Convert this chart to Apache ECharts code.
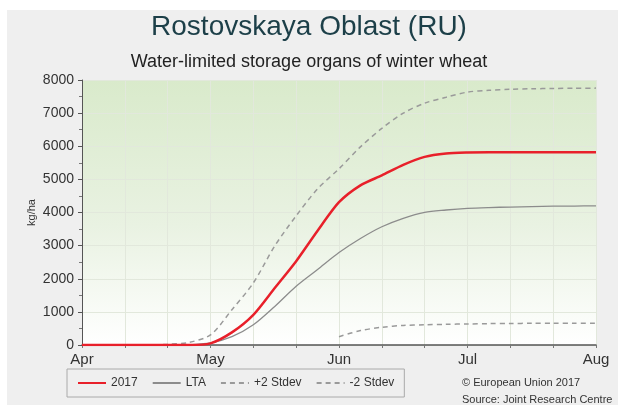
<!DOCTYPE html>
<html>
<head>
<meta charset="utf-8">
<script src="https://cdn.jsdelivr.net/npm/echarts@6/dist/echarts.min.js"></script>
<style>
html,body{margin:0;padding:0;background:#ffffff;}
#c{width:618px;height:405px;}
</style>
</head>
<body>
<div id="c"></div>
<script>
// x positions in dekads from 1 April (0 = Apr 1, 3 = May 1, ... 12 = Aug 1)
var xPos = [0,0.5,1,1.5,2,2.5,3,3.5,4,4.5,5,5.5,6,6.5,7,7.5,8,8.5,9,9.5,10,10.5,11,11.5,12];
var monthLabels = ['Apr','May','Jun','Jul','Aug'];
var yTicks = [0,1000,2000,3000,4000,5000,6000,7000,8000];

var s2017 = [0,0,0,0,0,0,50,380,910,1720,2530,3450,4310,4820,5120,5440,5680,5780,5810,5820,5820,5820,5820,5820,5820];
var sLTA  = [0,0,0,0,0,10,60,250,610,1165,1775,2280,2790,3215,3570,3825,4005,4075,4125,4150,4165,4180,4190,4195,4200];
var sPlus = [0,0,0,0,20,80,305,1065,1875,2990,3900,4715,5320,5980,6540,7000,7300,7480,7635,7690,7720,7735,7745,7750,7755];
var sMinus= [null,null,null,null,null,null,null,null,null,null,null,null,250,435,535,590,610,625,635,645,650,655,660,660,660];

function pairs(arr){ var out=[]; for(var i=0;i<xPos.length;i++){ out.push([xPos[i], arr[i]]); } return out; }

var chart = echarts.init(document.getElementById('c'), null, {renderer:'canvas'});
var FONT = 'Liberation Sans, Arial, sans-serif';
chart.setOption({
  backgroundColor: '#ffffff',
  animation: false,
  graphic: [
    {type:'rect', z:-10, silent:true, shape:{x:7,y:10,width:611,height:395}, style:{fill:'#efefef'}},
    {type:'text', left:462, top:377, style:{text:'© European Union 2017', fill:'#333', font:'11px '+FONT}},
    {type:'text', left:462, top:394, style:{text:'Source: Joint Research Centre', fill:'#333', font:'11px '+FONT}}
  ],
  title: [
    {text:'Rostovskaya Oblast (RU)', left:'center', top:8, textStyle:{fontFamily:FONT, fontSize:28, fontWeight:'normal', color:'#1c3f48'}},
    {text:'Water-limited storage organs of winter wheat', left:'center', top:48, textStyle:{fontFamily:FONT, fontSize:18, fontWeight:'normal', color:'#222'}}
  ],
  legend: {
    left: 67, top: 369,
    padding: [8,10,8,10],
    borderColor:'#aaaaaa', borderWidth:1, backgroundColor:'#efefef',
    itemWidth: 28, itemHeight: 10, itemGap: 14,
    itemStyle:{opacity:0},
    textStyle:{fontFamily:FONT, fontSize:12, color:'#333'},
    data:['2017','LTA','+2 Stdev','-2 Stdev']
  },
  grid: {
    left: 82, right: 22, top: 80, bottom: 60,
    show: true, borderWidth: 0,
    backgroundColor: {type:'linear', x:0, y:0, x2:0, y2:1, colorStops:[{offset:0,color:'#d9eacb'},{offset:0.55,color:'#e9f2e2'},{offset:1,color:'#ffffff'}]}
  },
  xAxis: {
    type:'value', min:0, max:12, interval:3,
    axisLine:{show:true, lineStyle:{color:'#555', width:1.5}},
    axisTick:{show:true, length:3, lineStyle:{color:'#777'}},
    minorTick:{show:true, splitNumber:3, length:3, lineStyle:{color:'#777'}},
    splitLine:{show:true, lineStyle:{color:'#e2e8dc', width:1}},
    minorSplitLine:{show:true, lineStyle:{color:'#e2e8dc', width:1}},
    axisLabel:{fontFamily:FONT, fontSize:15, color:'#333', margin:7,
      formatter:function(v){ var i=Math.round(v/3); return monthLabels[i]||''; }}
  },
  yAxis: {
    type:'value', min:0, max:8000, interval:1000,
    name:'kg/ha', nameLocation:'middle', nameGap:45, nameRotate:90, nameMoveOverlap:false,
    nameTextStyle:{fontFamily:FONT, fontSize:11, color:'#333'},
    axisLine:{show:true, lineStyle:{color:'#555', width:1}},
    axisTick:{show:true, length:4, lineStyle:{color:'#555'}},
    minorTick:{show:true, splitNumber:2, length:3, lineStyle:{color:'#777'}},
    splitLine:{show:true, lineStyle:{color:'#e2e8dc', width:1}},
    axisLabel:{fontFamily:FONT, fontSize:14, color:'#333', margin:8,
      formatter:function(v){ return yTicks.indexOf(v)>=0 ? String(v) : ''; }}
  },
  series: [
    {name:'2017', type:'line', data:pairs(s2017), showSymbol:false, symbol:'none', smooth:0.25,
      lineStyle:{color:'#e8202a', width:2.5}, itemStyle:{color:'#e8202a'}, z:4},
    {name:'LTA', type:'line', data:pairs(sLTA), showSymbol:false, symbol:'none', smooth:0.3,
      lineStyle:{color:'#8c8c8c', width:1.3}, itemStyle:{color:'#8c8c8c'}, z:3},
    {name:'+2 Stdev', type:'line', data:pairs(sPlus), showSymbol:false, symbol:'none', smooth:0.3,
      lineStyle:{color:'#9a9a9a', width:1.5, type:[5,4]}, itemStyle:{color:'#9a9a9a'}, z:2},
    {name:'-2 Stdev', type:'line', data:pairs(sMinus), showSymbol:false, symbol:'none', smooth:0.3,
      lineStyle:{color:'#9a9a9a', width:1.5, type:[5,4]}, itemStyle:{color:'#9a9a9a'}, z:2}
  ]
});
</script>
</body>
</html>
